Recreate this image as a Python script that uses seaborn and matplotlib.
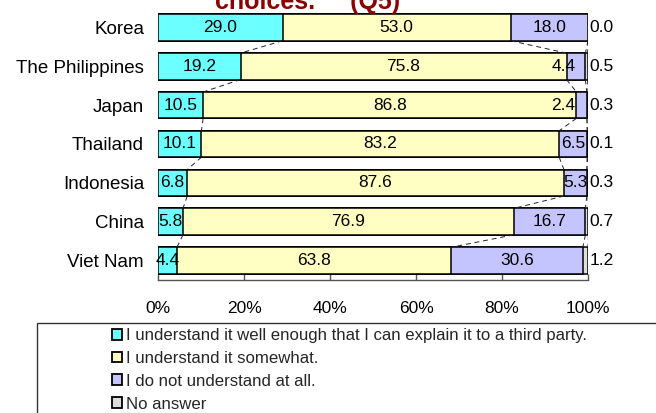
import numpy as np
import pandas as pd
import matplotlib
matplotlib.use("Agg")
import matplotlib.pyplot as plt
from matplotlib.patches import Patch, Rectangle
import seaborn as sns

# Survey responses (%) by country
countries = ["Korea", "The Philippines", "Japan", "Thailand", "Indonesia", "China", "Viet Nam"]
well_enough = [29.0, 19.2, 10.5, 10.1, 6.8, 5.8, 4.4]
somewhat = [53.0, 75.8, 86.8, 83.2, 87.6, 76.9, 63.8]
not_at_all = [18.0, 4.4, 2.4, 6.5, 5.3, 16.7, 30.6]
no_answer = [0.0, 0.5, 0.3, 0.1, 0.3, 0.7, 1.2]

legend_labels = [
    "I understand it well enough that I can explain it to a third party.",
    "I understand it somewhat.",
    "I do not understand at all.",
    "No answer",
]
colors = ["#6CFFFF", "#FFFFC4", "#C4C4FF", "#DDDDDD"]
tick_values = [0, 20, 40, 60, 80, 100]
tick_labels = ["0%", "20%", "40%", "60%", "80%", "100%"]

series = [well_enough, somewhat, not_at_all, no_answer]
df = pd.DataFrame({"country": countries})
cum = np.cumsum(np.array(series), axis=0)
for k in range(4):
    df[f"c{k}"] = cum[k]

sns.set_theme(style="white")
plt.rcParams["font.family"] = ["Liberation Sans", "DejaVu Sans"]

fig = plt.figure(figsize=(6.56, 4.13), dpi=100)
ax = fig.add_axes([158 / 656, 0.3223, 430 / 656, 0.6581])

bar_w = 0.68
# stacked bars: draw the running totals from the longest down
for k in range(3, -1, -1):
    sns.barplot(data=df, x=f"c{k}", y="country", orient="h", color=colors[k],
                saturation=1, edgecolor="black", linewidth=1.1, width=bar_w,
                errorbar=None, ax=ax)

# dashed series lines between neighbouring bars
n = len(countries)
for k in range(4):
    for i in range(n - 1):
        ax.plot([cum[k][i], cum[k][i + 1]], [i + bar_w / 2, i + 1 - bar_w / 2],
                color="#222222", lw=0.7, ls=(0, (5, 4)), zorder=1)

# segment labels
label_fs = 12.5
for k in range(3):
    start = cum[k] - np.array(series[k])
    for i in range(n):
        v = series[k][i]
        xc = start[i] + v / 2
        if v < 5 and xc > 90:
            xc = min(xc, 94.3)
        ax.text(xc, i, f"{v:.1f}", ha="center", va="center", fontsize=label_fs,
                color="black", zorder=5)
for i in range(n):
    ax.text(100.4, i, f"{no_answer[i]:.1f}", ha="left", va="center",
            fontsize=label_fs, color="black", clip_on=False, zorder=5)

ax.set_xlim(0, 100)
ax.set_ylim(n - 0.5, -0.5)
ax.set_xticks(tick_values)
ax.set_xticklabels(tick_labels)
ax.set_xlabel("")
ax.set_ylabel("")
for s in ["top", "right", "left"]:
    ax.spines[s].set_visible(False)
ax.spines["bottom"].set_color("#555555")
ax.spines["bottom"].set_linewidth(1.0)
ax.tick_params(axis="x", direction="in", length=4, width=1, color="#555555",
               pad=15, labelsize=12.5, bottom=True)
ax.tick_params(axis="y", length=0, pad=10, labelsize=13.5)
for t in ax.get_xticklabels() + ax.get_yticklabels():
    t.set_color("black")

# legend frame running off the lower right
fig.patches.append(Rectangle((37 / 656, -0.2), 1.2, 0.2 + (413 - 323) / 413,
                             transform=fig.transFigure, fill=False,
                             edgecolor="#333333", lw=1.0, clip_on=False))
handles = [Patch(facecolor=c, edgecolor="black", lw=1.3) for c in colors]
fig.legend(handles, legend_labels, loc="upper left",
           bbox_to_anchor=(112 / 656, (413 - 328) / 413), frameon=False,
           fontsize=12.1, handlelength=0.62, handleheight=0.62,
           handletextpad=0.2, labelspacing=0.47, borderpad=0, borderaxespad=0)

fig.text(215 / 656, (413 - 9) / 413, "choices.     (Q5)", ha="left",
         va="baseline", fontsize=18, fontweight="bold", color="#8B0000")

fig.savefig("out.png", dpi=100)
